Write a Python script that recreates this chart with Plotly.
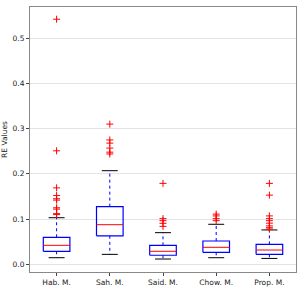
import plotly.graph_objects as go

categories = ["Hab. M.", "Sah. M.", "Said. M.", "Chow. M.", "Prop. M."]
lower_whisker = [0.0146, 0.022, 0.0117, 0.0146, 0.013]
q1 = [0.0288, 0.063, 0.020, 0.0265, 0.022]
median = [0.042, 0.0876, 0.0288, 0.0376, 0.0316]
q3 = [0.0597, 0.1275, 0.042, 0.0516, 0.044]
upper_whisker = [0.103, 0.207, 0.070, 0.0885, 0.076]
outliers = [
    [0.542, 0.251, 0.169, 0.152, 0.145, 0.142, 0.125, 0.122, 0.112, 0.110],
    [0.310, 0.275, 0.268, 0.257, 0.248, 0.244],
    [0.179, 0.101, 0.0965, 0.0907, 0.084],
    [0.111, 0.107, 0.101, 0.0965],
    [0.179, 0.153, 0.107, 0.101, 0.0965, 0.091, 0.085, 0.081, 0.078],
]
y_ticks = [0.0, 0.1, 0.2, 0.3, 0.4, 0.5]

BOX_HALF = 0.25
CAP_HALF = 0.15

positions = list(range(1, len(categories) + 1))

box_x, box_y = [], []
med_x, med_y = [], []
wh_x, wh_y = [], []
cap_x, cap_y = [], []
out_x, out_y = [], []
for i, p in enumerate(positions):
    box_x += [p - BOX_HALF, p + BOX_HALF, p + BOX_HALF, p - BOX_HALF, p - BOX_HALF, None]
    box_y += [q1[i], q1[i], q3[i], q3[i], q1[i], None]
    med_x += [p - BOX_HALF, p + BOX_HALF, None]
    med_y += [median[i], median[i], None]
    wh_x += [p, p, None, p, p, None]
    wh_y += [q1[i], lower_whisker[i], None, q3[i], upper_whisker[i], None]
    cap_x += [p - CAP_HALF, p + CAP_HALF, None, p - CAP_HALF, p + CAP_HALF, None]
    cap_y += [lower_whisker[i], lower_whisker[i], None, upper_whisker[i], upper_whisker[i], None]
    out_x += [p] * len(outliers[i])
    out_y += outliers[i]

fig = go.Figure()
fig.add_trace(go.Scatter(x=wh_x, y=wh_y, mode="lines",
                         line=dict(color="blue", width=1, dash="dot"), hoverinfo="skip"))
fig.add_trace(go.Scatter(x=cap_x, y=cap_y, mode="lines",
                         line=dict(color="black", width=1), hoverinfo="skip"))
fig.add_trace(go.Scatter(x=box_x, y=box_y, mode="lines",
                         line=dict(color="blue", width=1.2), hoverinfo="skip"))
fig.add_trace(go.Scatter(x=med_x, y=med_y, mode="lines",
                         line=dict(color="red", width=1), hoverinfo="skip"))
fig.add_trace(go.Scatter(x=out_x, y=out_y, mode="markers",
                         marker=dict(symbol="cross-thin", size=5, color="red",
                                     line=dict(color="red", width=1)),
                         hoverinfo="skip"))

font = dict(family="DejaVu Sans", size=7.5, color="#222")
fig.update_layout(
    width=303, height=288,
    margin=dict(l=30, r=7, t=7, b=16),
    paper_bgcolor="white", plot_bgcolor="white",
    showlegend=False,
    font=font,
)
fig.update_xaxes(
    range=[0.5, 5.5], tickmode="array", tickvals=positions, ticktext=categories,
    showgrid=False, zeroline=False, automargin=False,
    showline=True, linecolor="#888", linewidth=1, mirror=True,
    ticks="outside", ticklen=3, tickcolor="#444", tickfont=font,
)
fig.update_yaxes(
    range=[-0.017, 0.569], tickmode="array", tickvals=y_ticks,
    ticktext=[f"{v:.1f}" for v in y_ticks],
    showgrid=True, gridcolor="#e3e3e3", gridwidth=1, zeroline=False, automargin=False,
    showline=True, linecolor="#888", linewidth=1, mirror=True,
    ticks="outside", ticklen=3, tickcolor="#444", tickfont=font,
    title=dict(text="RE Values", font=font, standoff=4),
)
fig.write_html("out.html", config={"displayModeBar": False},
               post_script="document.body.style.margin='0px';")
